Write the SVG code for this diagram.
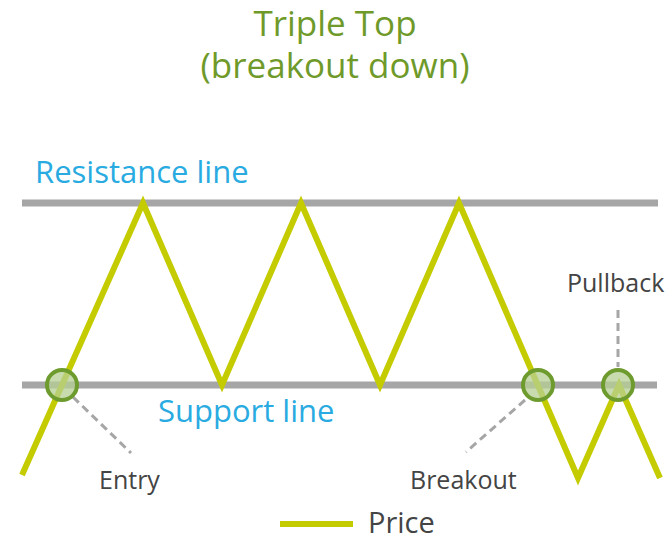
<svg xmlns="http://www.w3.org/2000/svg" width="671" height="540" viewBox="0 0 671 540">
<style>
text{font-family:"Open Sans","Noto Sans",sans-serif}
.title{fill:#6f9a2a;font-size:35px;text-anchor:middle}
.blue{fill:#29abe2;font-size:31px}
.lab{fill:#444;font-size:25px}
.guide{stroke:#a6a6a6;stroke-width:7;fill:none}
.price{stroke:#c4cc00;stroke-width:6;fill:none;stroke-linejoin:miter}
.dash{stroke:#a6a6a6;stroke-width:3;stroke-dasharray:8 5;fill:none}
.mark{stroke:#6e9b2e;stroke-width:4;fill:#b5cf93;fill-opacity:0.75}
</style>
<rect width="671" height="540" fill="#fff"/>
<g id="title">
<text class="title"><tspan x="335" y="36">Triple Top</tspan><tspan x="335" y="78">(breakout down)</tspan></text>
</g>
<g id="resistance">
<line class="guide" x1="22" y1="203" x2="658" y2="203"/>
<text class="blue" x="35" y="183">Resistance line</text>
</g>
<g id="support">
<line class="guide" x1="22" y1="385" x2="657" y2="385"/>
<text class="blue" x="158" y="422">Support line</text>
</g>
<g id="connectors">
<line class="dash" x1="73" y1="397" x2="131" y2="453"/>
<line class="dash" x1="525" y1="400" x2="466" y2="452"/>
<line class="dash" x1="618" y1="310" x2="618" y2="367"/>
</g>
<g id="price">
<polyline class="price" points="22,475 143,203 222,385 301,203 380,385 459,203 578,478 619,385 660,478"/>
</g>
<g id="entry">
<circle class="mark" cx="62" cy="385" r="15"/>
<text class="lab" x="99" y="489">Entry</text>
</g>
<g id="breakout">
<circle class="mark" cx="538" cy="385" r="15"/>
<text class="lab" x="410" y="489">Breakout</text>
</g>
<g id="pullback">
<circle class="mark" cx="618" cy="385" r="15"/>
<text class="lab" x="567" y="292">Pullback</text>
</g>
<g id="legend">
<line x1="280" y1="524" x2="353" y2="524" stroke="#c4cc00" stroke-width="6"/>
<text x="368" y="533" style="fill:#444;font-size:29px">Price</text>
</g>
</svg>
